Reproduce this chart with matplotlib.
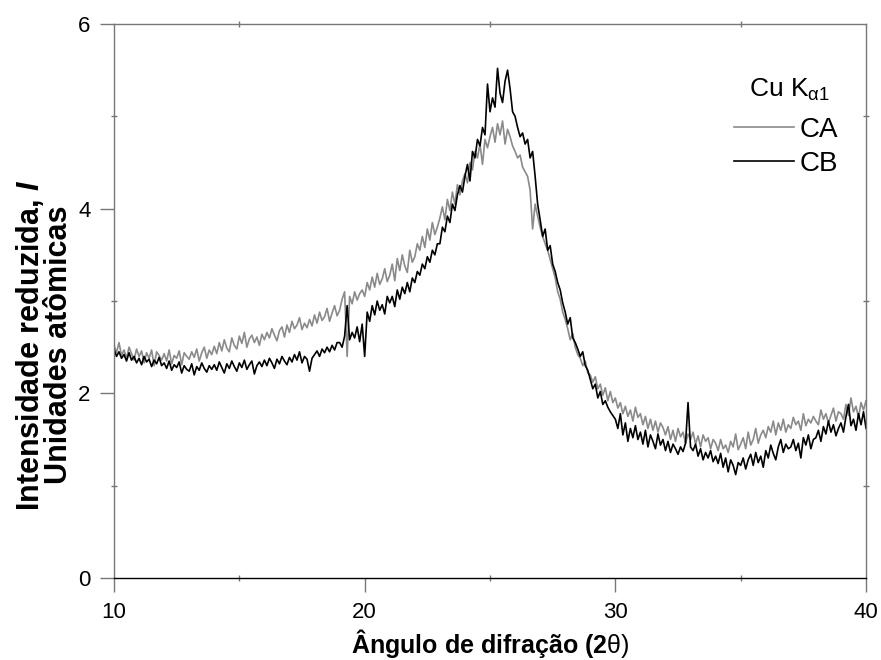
import numpy as np
import matplotlib
matplotlib.use("Agg")
import matplotlib.pyplot as plt
from matplotlib.ticker import MultipleLocator

plt.rcParams['font.family'] = ['Liberation Sans', 'DejaVu Sans']
plt.rcParams['mathtext.fontset'] = 'custom'
plt.rcParams['mathtext.rm'] = 'Liberation Sans'
plt.rcParams['mathtext.it'] = 'Liberation Sans:italic'
plt.rcParams['mathtext.bf'] = 'Liberation Sans:bold'
plt.rcParams['mathtext.bfit'] = 'Liberation Sans:bold:italic'

# 2theta grid, 0.1 deg step from 10 to 40
two_theta = np.round(np.arange(10.0, 40.05, 0.1), 1)

# reduced intensity, one row per degree
ca = [
    2.52, 2.44, 2.55, 2.41, 2.47, 2.38, 2.50, 2.43, 2.36, 2.48,
    2.40, 2.46, 2.33, 2.44, 2.38, 2.47, 2.30, 2.45, 2.41, 2.36,
    2.43, 2.35, 2.47, 2.32, 2.41, 2.38, 2.46, 2.31, 2.44, 2.40,
    2.37, 2.45, 2.39, 2.48, 2.35, 2.44, 2.50, 2.38, 2.47, 2.42,
    2.51, 2.43, 2.55, 2.46, 2.58, 2.49, 2.45, 2.60, 2.52, 2.48,
    2.62, 2.54, 2.66, 2.50, 2.59, 2.63, 2.55, 2.61, 2.52, 2.64,
    2.58, 2.66, 2.60, 2.70, 2.63, 2.57, 2.68, 2.72, 2.61, 2.74,
    2.66, 2.78, 2.70, 2.74, 2.82, 2.69, 2.76, 2.71, 2.80, 2.73,
    2.85, 2.76, 2.88, 2.79, 2.83, 2.92, 2.78, 2.87, 2.95, 2.84,
    2.90, 3.02, 3.10, 2.40, 3.05, 2.97, 3.10, 3.01, 3.08, 3.12,
    3.05, 3.20, 3.12, 3.26, 3.15, 3.30, 3.18, 3.24, 3.35, 3.21,
    3.28, 3.40, 3.22, 3.46, 3.33, 3.50, 3.38, 3.31, 3.55, 3.42,
    3.48, 3.62, 3.55, 3.70, 3.58, 3.78, 3.66, 3.85, 3.72, 3.80,
    3.90, 4.02, 3.88, 4.10, 3.98, 4.18, 4.05, 4.26, 4.15, 4.30,
    4.38, 4.28, 4.50, 4.42, 4.62, 4.55, 4.70, 4.48, 4.75, 4.66,
    4.78, 4.88, 4.72, 4.92, 4.80, 4.95, 4.70, 4.86, 4.78, 4.68,
    4.62, 4.55, 4.58, 4.45, 4.40, 4.35, 4.20, 3.78, 4.05, 3.92,
    3.80, 3.70, 3.62, 3.55, 3.45, 3.35, 3.25, 3.10, 3.02, 2.88,
    2.80, 2.70, 2.58, 2.65, 2.50, 2.42, 2.38, 2.30, 2.35, 2.22,
    2.20, 2.12, 2.18, 2.05, 2.10, 1.98, 2.06, 1.92, 2.02, 1.90,
    1.95, 1.84, 1.90, 1.78, 1.86, 1.75, 1.82, 1.70, 1.85, 1.74,
    1.78, 1.66, 1.75, 1.62, 1.72, 1.60, 1.70, 1.58, 1.68, 1.63,
    1.55, 1.64, 1.50, 1.60, 1.48, 1.62, 1.53, 1.58, 1.46, 1.56,
    1.50, 1.58, 1.45, 1.54, 1.42, 1.55, 1.48, 1.52, 1.40, 1.50,
    1.46, 1.38, 1.50, 1.40, 1.44, 1.36, 1.48, 1.42, 1.56, 1.39,
    1.45, 1.52, 1.40, 1.58, 1.44, 1.50, 1.62, 1.46, 1.55, 1.60,
    1.52, 1.64, 1.58, 1.70, 1.55, 1.68, 1.60, 1.72, 1.58, 1.66,
    1.62, 1.74, 1.66, 1.70, 1.60, 1.78, 1.65, 1.72, 1.68, 1.75,
    1.70, 1.66, 1.82, 1.72, 1.78, 1.68, 1.76, 1.84, 1.70, 1.80,
    1.78, 1.72, 1.88, 1.76, 1.95, 1.80, 1.86, 1.74, 1.90, 1.82,
    1.92,
]

cb = [
    2.48, 2.40, 2.45, 2.38, 2.42, 2.35, 2.44, 2.36, 2.40, 2.33,
    2.38, 2.31, 2.40, 2.34, 2.37, 2.29, 2.36, 2.32, 2.39, 2.30,
    2.33, 2.27, 2.35, 2.25, 2.31, 2.28, 2.34, 2.22, 2.30, 2.26,
    2.24, 2.32, 2.20, 2.29, 2.25, 2.33, 2.27, 2.23, 2.30, 2.26,
    2.31, 2.25, 2.34, 2.28, 2.22, 2.32, 2.27, 2.35, 2.29, 2.24,
    2.33, 2.28, 2.36, 2.26, 2.31, 2.35, 2.21, 2.30, 2.34, 2.29,
    2.36, 2.30, 2.38, 2.33, 2.27, 2.37, 2.32, 2.40, 2.35, 2.31,
    2.39, 2.34, 2.42, 2.36, 2.45, 2.33, 2.40, 2.37, 2.24, 2.38,
    2.42, 2.46, 2.40, 2.48, 2.44, 2.50, 2.45, 2.52, 2.47, 2.55,
    2.55, 2.50, 2.62, 2.95, 2.58, 2.66, 2.60, 2.72, 2.56, 2.75,
    2.40, 2.88, 2.78, 2.95, 2.85, 3.00, 2.90, 2.96, 2.86, 3.05,
    2.98, 3.05, 2.94, 3.12, 3.02, 3.15, 3.08, 3.20, 3.10, 3.25,
    3.20, 3.32, 3.28, 3.40, 3.35, 3.48, 3.42, 3.55, 3.50, 3.62,
    3.62, 3.80, 3.75, 3.92, 3.85, 4.05, 3.98, 4.15, 4.25, 4.18,
    4.35, 4.48, 4.30, 4.62, 4.55, 4.75, 4.68, 4.88, 4.80, 5.35,
    5.05, 5.20, 5.10, 5.52, 5.25, 5.15, 5.38, 5.50, 5.30, 5.05,
    5.00, 4.88, 4.78, 4.82, 4.70, 4.75, 4.55, 4.62, 4.35, 4.05,
    3.88, 3.70, 3.78, 3.55, 3.60, 3.40, 3.32, 3.20, 3.12, 2.98,
    2.88, 2.75, 2.82, 2.60, 2.55, 2.48, 2.40, 2.45, 2.30, 2.25,
    2.15, 2.05, 2.10, 1.95, 2.02, 1.88, 1.92, 1.85, 1.80, 1.76,
    1.72, 1.62, 1.78, 1.55, 1.68, 1.48, 1.62, 1.52, 1.65, 1.50,
    1.58, 1.45, 1.60, 1.42, 1.55, 1.48, 1.40, 1.56, 1.44, 1.50,
    1.38, 1.48, 1.36, 1.45, 1.40, 1.34, 1.42, 1.37, 1.46, 1.90,
    1.42, 1.38, 1.45, 1.32, 1.40, 1.28, 1.36, 1.30, 1.38, 1.26,
    1.32, 1.24, 1.35, 1.20, 1.30, 1.15, 1.28, 1.22, 1.12, 1.25,
    1.22, 1.30, 1.18, 1.28, 1.34, 1.22, 1.36, 1.25, 1.32, 1.20,
    1.38, 1.30, 1.44, 1.35, 1.28, 1.42, 1.50, 1.36, 1.45, 1.40,
    1.42, 1.50, 1.38, 1.46, 1.30, 1.52, 1.44, 1.55, 1.40, 1.50,
    1.52, 1.60, 1.48, 1.64, 1.56, 1.70, 1.58, 1.66, 1.54, 1.62,
    1.68, 1.58, 1.75, 1.88, 1.65, 1.72, 1.60, 1.78, 1.66, 1.80,
    1.62,
]

series_names = ['CA', 'CB']
series_colors = ['#8a8a8a', '#000000']

fig = plt.figure(figsize=(8.81, 6.60), dpi=100)
ax = fig.add_axes([0.1294, 0.1242, 0.8536, 0.8394])

for vals, name, col in zip([ca, cb], series_names, series_colors):
    ax.plot(two_theta, vals, color=col, lw=1.2, label=name)

ax.set_xlim(10, 40)
ax.set_ylim(0, 6)
ax.xaxis.set_major_locator(MultipleLocator(10))
ax.xaxis.set_minor_locator(MultipleLocator(5))
ax.yaxis.set_major_locator(MultipleLocator(2))
ax.yaxis.set_minor_locator(MultipleLocator(1))

ax.tick_params(which='major', direction='out', length=10, width=1,
               labelsize=16, pad=7, color='#777777')
ax.tick_params(which='minor', direction='inout', length=5, width=1, color='#777777')
ax.tick_params(which='both', top=True, right=True)
ax.tick_params(axis='x', which='major', top=False)
ax.tick_params(axis='y', which='major', right=False)

for side in ['left', 'top', 'right']:
    ax.spines[side].set_color('#777777')
ax.spines['bottom'].set_color('black')
for sp in ax.spines.values():
    sp.set_linewidth(1.0)

# axis titles
fig.text(490 / 881, 1 - 643 / 660, r'Ângulo de difração (2$\mathrm{\theta)}$',
         fontsize=18, fontweight='bold', ha='center', va='center')
fig.text(44 / 881, 1 - 345 / 660,
         'Intensidade reduzida, $\\mathbfit{I}$\nUnidades atômicas',
         fontsize=22, fontweight='bold', rotation=90, ha='center', va='center',
         multialignment='center', linespacing=0.9)

ax.text((830 - 114) / 752, (578 - 90) / 554, r'Cu K$_{\mathrm{\alpha 1}}$',
        transform=ax.transAxes, ha='right', va='center', fontsize=19)
ax.legend(loc='center right', bbox_to_anchor=((838 - 114) / 752, (578 - 147) / 554),
          frameon=False, fontsize=20, handlelength=2.15, handletextpad=0.2,
          labelspacing=0.3, borderaxespad=0, borderpad=0)

fig.savefig('out.png', dpi=100)
